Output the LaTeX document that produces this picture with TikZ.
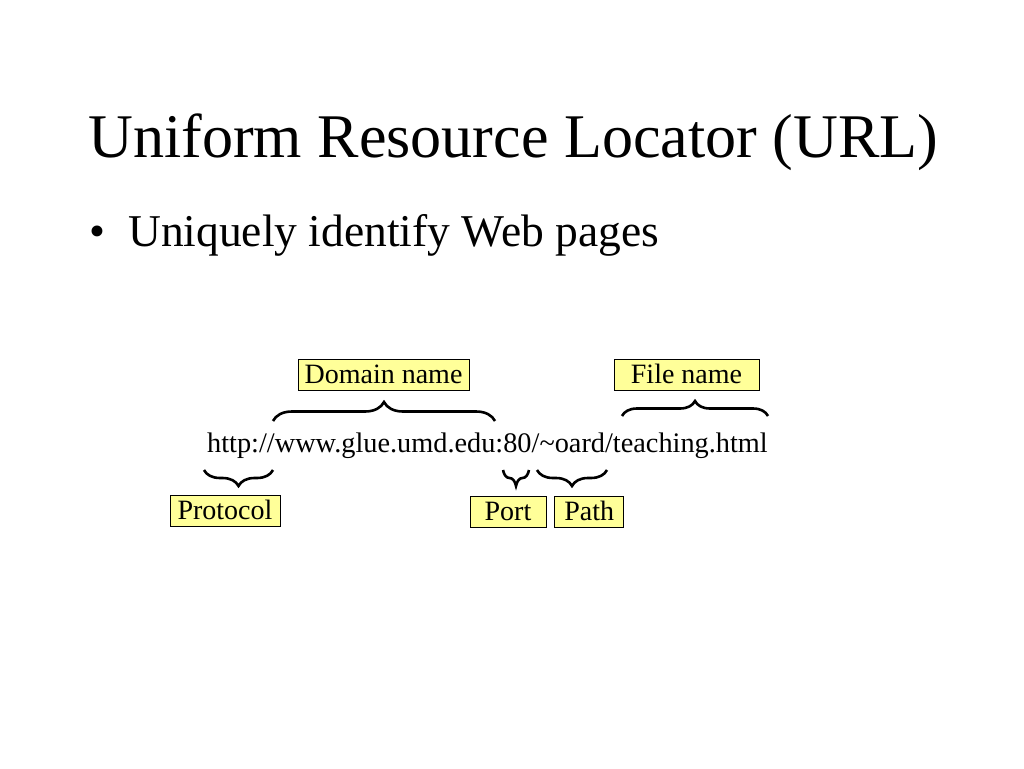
\documentclass[tikz,border=0pt]{standalone}
\usepackage{fontspec}
\setmainfont{Liberation Serif}
\usetikzlibrary{positioning,decorations.pathreplacing}
\definecolor{boxfill}{HTML}{FFFF99}

\begin{document}
\begin{tikzpicture}[x=1pt,y=-1pt,node distance=8pt,
  lbl/.style={draw=black,line width=0.8pt,fill=boxfill,inner sep=0pt,
    text height=24pt,text depth=7pt,font=\fontsize{28}{32}\selectfont},
  brc/.style={decorate,decoration={brace,amplitude=#1},line width=2.6pt}]
  \fill[white] (0,0) rectangle (1024,768);
  \useasboundingbox (0,0) rectangle (1024,768);
  \node[anchor=base west,inner sep=0pt,font=\fontsize{62.1}{70}\selectfont] (title) at (88,157) {Uniform Resource Locator (URL)};
  \node[anchor=base west,inner sep=0pt,font=\fontsize{45.5}{50}\selectfont] (dot) at (89,246) {•};
  \node[anchor=base west,inner sep=0pt,font=\fontsize{45.5}{50}\selectfont] (item) at (128,246) {Uniquely identify Web pages};
  \node[anchor=base west,inner sep=0pt,font=\fontsize{28.3}{32}\selectfont] (url) at (207,452) {http://www.glue.umd.edu:80/\char`\~oard/teaching.html};
  % labels
  \node[lbl,minimum width=171pt] (domain) at (383.5,375) {Domain name};
  \node[lbl,minimum width=145pt] (file) at (686.5,375) {File name};
  \node[lbl,minimum width=110pt] (protocol) at (225,511) {Protocol};
  \node[lbl,minimum width=76pt] (port) at (508,511.5) {Port};
  \node[lbl,minimum width=69pt] (path) [right = of port] {Path};
  % brace ends
  \coordinate (d1) at (273,421);
  \coordinate (d2) at (495,421);
  \coordinate (f1) at (622,416);
  \coordinate (f2) at (768,416);
  \coordinate (pr1) at (204,470);
  \coordinate (pr2) at (273,470);
  \coordinate (po1) at (503,470);
  \coordinate (po2) at (529,470);
  \coordinate (pa1) at (537,470);
  \coordinate (pa2) at (607,470);
  \draw[brc=19] (d1) -- (d2);
  \draw[brc=15] (f1) -- (f2);
  \draw[brc=16] (pr2) -- (pr1);
  \draw[brc=16] (po2) -- (po1);
  \draw[brc=16] (pa2) -- (pa1);
\end{tikzpicture}
\end{document}
